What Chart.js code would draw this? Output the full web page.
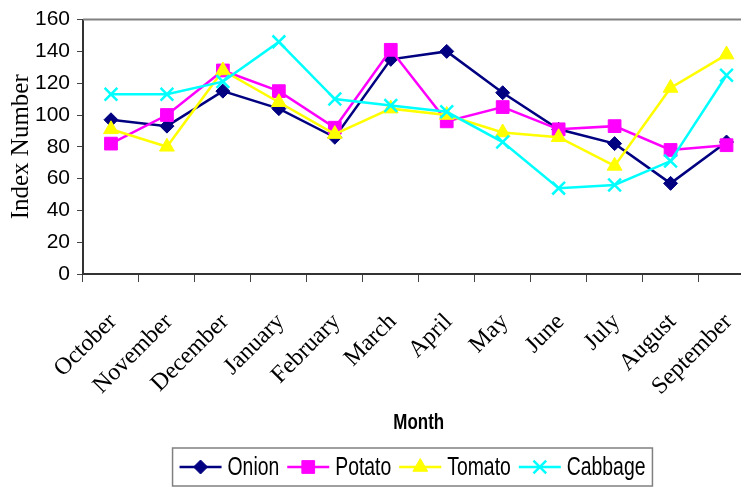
<!DOCTYPE html>
<html>
<head>
<meta charset="utf-8">
<script src="https://cdn.jsdelivr.net/npm/chart.js@4/dist/chart.umd.min.js"></script>
<style>
  html, body { margin: 0; padding: 0; overflow: hidden; background: #fff; width: 741px; height: 487px; }
  #wrap { width: 766px; height: 487px; }
  #c { display: block; width: 766px; height: 487px; }
</style>
</head>
<body>
<div id="wrap"><canvas id="c" width="766" height="487"></canvas></div>
<script>
const months = ["October", "November", "December", "January", "February", "March", "April", "May", "June", "July", "August", "September"];
const onion   = [97, 93, 115, 104, 86, 135, 140, 114, 91, 82, 57, 83];
const potato  = [82, 100, 128, 115, 92, 141, 96, 105, 91, 93, 78, 81];
const tomato  = [91, 80, 128, 108, 88, 104, 100, 89, 86, 68, 117, 138];
const cabbage = [113, 113, 121, 146, 110, 106, 102, 83, 54, 56, 71, 125];
const seriesNames = ["Onion", "Potato", "Tomato", "Cabbage"];
const yTicks = [0, 20, 40, 60, 80, 100, 120, 140, 160];
const xTitle = "Month";
const yTitle = "Index Number";

const SANS = "'Liberation Sans', Arial, sans-serif";
const SERIF = "'Liberation Serif', 'Times New Roman', serif";

const styles = [
  { color: '#000080', pointStyle: 'rectRot', radius: 7 },
  { color: '#FF00FF', pointStyle: 'rect', radius: 9 },
  { color: '#FFFF00', pointStyle: 'triangle', radius: 8.5 },
  { color: '#00FFFF', pointStyle: 'crossRot', radius: 9 }
];
const values = [onion, potato, tomato, cabbage];

const datasets = seriesNames.map((name, i) => ({
  label: name,
  data: values[i],
  borderColor: styles[i].color,
  backgroundColor: styles[i].color,
  pointBackgroundColor: styles[i].color,
  pointBorderColor: styles[i].color,
  pointStyle: styles[i].pointStyle,
  pointRadius: styles[i].radius,
  pointHoverRadius: styles[i].radius,
  pointBorderWidth: styles[i].pointStyle === 'crossRot' ? 2.5 : 1,
  borderWidth: 2.5,
  tension: 0,
  fill: false,
  order: 4 - i
}));

function condensedText(ctx, text, x, y, sx) {
  ctx.save();
  ctx.translate(x, y);
  ctx.scale(sx, 1);
  ctx.fillText(text, 0, 0);
  ctx.restore();
}

const frame = {
  id: 'frame',
  beforeDatasetsDraw(chart) {
    const { ctx, chartArea: a } = chart;
    ctx.save();
    ctx.strokeStyle = '#808080';
    ctx.lineWidth = 2;
    ctx.beginPath();
    ctx.moveTo(a.left, a.top);
    ctx.lineTo(a.right, a.top);
    ctx.lineTo(a.right, a.bottom);
    ctx.stroke();
    ctx.restore();
  }
};

const extras = {
  id: 'extras',
  afterDraw(chart) {
    const ctx = chart.ctx;
    const a = chart.chartArea;
    ctx.save();
    // x-axis title (condensed bold)
    const tsx = 0.77;
    ctx.font = 'bold 22px ' + SANS;
    ctx.fillStyle = '#000';
    ctx.textBaseline = 'middle';
    ctx.textAlign = 'left';
    const tw = ctx.measureText(xTitle).width * tsx;
    condensedText(ctx, xTitle, (a.left + a.right) / 2 - tw / 2, 423, tsx);

    // legend
    const sx = 0.775;
    const fontSize = 25;
    ctx.font = fontSize + 'px ' + SANS;
    const lineW = 42, gap1 = 6, gap2 = 8, padX = 7;
    const widths = seriesNames.map(n => ctx.measureText(n).width * sx);
    let total = 0;
    widths.forEach((w, i) => { total += lineW + gap1 + w + (i < widths.length - 1 ? gap2 : 0); });
    const boxW = total + padX * 2;
    const cx = 412.5;
    const boxL = cx - boxW / 2;
    const boxT = 448, boxB = 486;
    const cy = (boxT + boxB) / 2;
    ctx.strokeStyle = '#808080';
    ctx.lineWidth = 1.5;
    ctx.strokeRect(boxL, boxT, boxW, boxB - boxT);
    let x = boxL + padX;
    seriesNames.forEach((n, i) => {
      const st = styles[i];
      ctx.strokeStyle = st.color;
      ctx.fillStyle = st.color;
      ctx.lineWidth = 2.5;
      ctx.beginPath();
      ctx.moveTo(x, cy);
      ctx.lineTo(x + lineW, cy);
      ctx.stroke();
      ctx.lineWidth = st.pointStyle === 'crossRot' ? 2.5 : 1;
      Chart.helpers.drawPoint(ctx, { pointStyle: st.pointStyle, radius: st.radius, rotation: 0, borderWidth: ctx.lineWidth }, x + lineW / 2, cy);
      x += lineW + gap1;
      ctx.fillStyle = '#000';
      ctx.textBaseline = 'middle';
      ctx.textAlign = 'left';
      condensedText(ctx, n, x, cy + 1, sx);
      x += widths[i] + gap2;
    });
    ctx.restore();
  }
};

new Chart(document.getElementById('c'), {
  type: 'line',
  data: { labels: months, datasets },
  options: {
    responsive: false,
    animation: false,
    events: [],
    layout: { padding: { top: 19, left: 0, right: 0, bottom: 52 } },
    plugins: { legend: { display: false }, tooltip: { enabled: false } },
    scales: {
      x: {
        offset: true,
        afterFit(scale) { scale.height = 161; scale.paddingLeft = 0; scale.paddingRight = 0; },
        grid: { display: true, drawOnChartArea: false, drawTicks: true, tickLength: 8, color: '#444', lineWidth: 1, offset: true },
        border: { display: true, color: '#333', width: 2 },
        ticks: {
          autoSkip: false, maxRotation: 45, minRotation: 45, padding: 26, labelOffset: 2,
          color: '#000',
          font: { family: SERIF, size: 24 }
        },
        title: { display: false }
      },
      y: {
        min: 0, max: 160,
        afterFit(scale) { scale.width = 83; },
        afterBuildTicks(scale) { scale.ticks = yTicks.map(v => ({ value: v })); },
        grid: { display: true, drawOnChartArea: false, drawTicks: true, tickLength: 6, color: '#444', lineWidth: 1 },
        border: { display: true, color: '#333', width: 2 },
        ticks: {
          padding: 7, color: '#000',
          font: { family: SANS, size: 21 }
        },
        title: {
          display: true, text: yTitle, color: '#000',
          font: { family: SERIF, size: 25 },
          padding: { top: 6, bottom: 0 }
        }
      }
    }
  },
  plugins: [frame, extras]
});
</script>
</body>
</html>
